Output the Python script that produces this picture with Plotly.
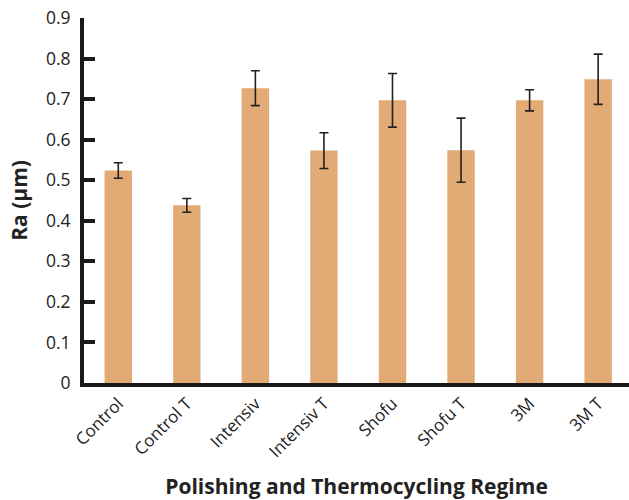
import plotly.graph_objects as go

categories = ["Control", "Control T", "Intensiv", "Intensiv T", "Shofu", "Shofu T", "3M", "3M T"]
ra_values = [0.524, 0.438, 0.727, 0.573, 0.697, 0.574, 0.697, 0.749]
ra_errors = [0.019, 0.017, 0.043, 0.044, 0.066, 0.079, 0.026, 0.062]
y_ticks = [0, 0.1, 0.2, 0.3, 0.4, 0.5, 0.6, 0.7, 0.8, 0.9]
y_tick_labels = ["0", "0.1", "0.2", "0.3", "0.4", "0.5", "0.6", "0.7", "0.8", "0.9"]

fig = go.Figure(go.Bar(
    x=categories, y=ra_values, width=0.4,
    marker=dict(color="#E2AA74", line=dict(width=0)),
    error_y=dict(type="data", array=ra_errors, visible=True,
                 color="#222222", thickness=1.6, width=4.5),
))

font = "Open Sans, Noto Sans, sans-serif"
fig.update_layout(
    width=629, height=500,
    margin=dict(l=84, r=0, t=18, b=117),
    paper_bgcolor="white", plot_bgcolor="white",
    showlegend=False,
    font=dict(family=font, color="#222222"),
    xaxis=dict(
        range=[-0.5, 7.45], showline=True, linecolor="#1a1a1a", linewidth=4,
        ticks="", tickangle=-45, tickfont=dict(size=17, color="#222222"),
        showgrid=False, zeroline=False,
        title=dict(text="<b>Polishing and Thermocycling Regime</b>",
                   font=dict(size=21, color="#222222"), standoff=22),
    ),
    yaxis=dict(
        range=[0, 0.9], showline=True, linecolor="#1a1a1a", linewidth=4,
        tickmode="array", tickvals=y_ticks, ticktext=y_tick_labels,
        ticks="inside", ticklen=11, tickwidth=4, tickcolor="#1a1a1a",
        tickfont=dict(size=17.5, color="#222222"), ticklabelstandoff=6,
        showgrid=False, zeroline=False,
        title=dict(text="<b>Ra (µm)</b>", font=dict(size=21, color="#222222"), standoff=14),
    ),
)

fig.write_html("out.html")
